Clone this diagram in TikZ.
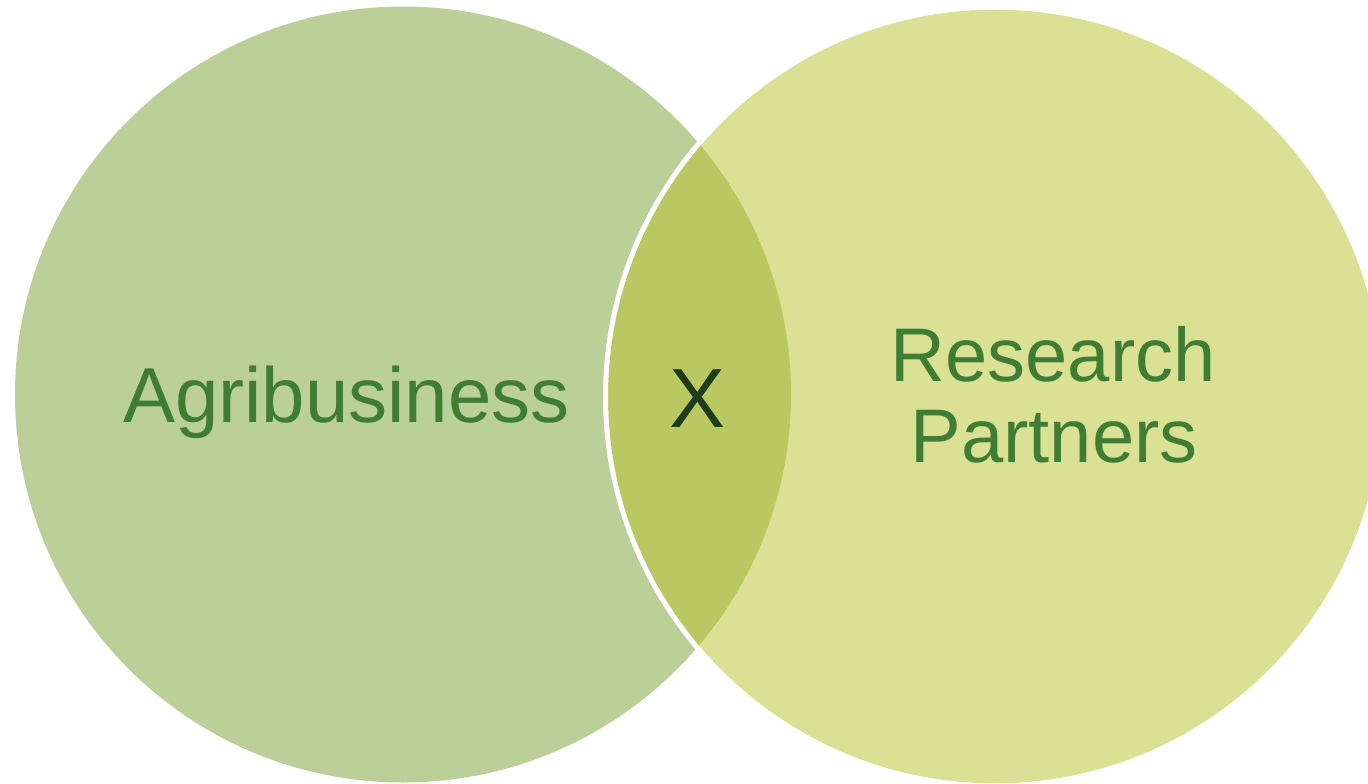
\documentclass[tikz,border=0pt]{standalone}
\usepackage{fontspec}
\setmainfont{Liberation Sans}
\definecolor{leftc}{RGB}{187,207,153}
\definecolor{rightc}{RGB}{219,225,148}
\definecolor{midc}{RGB}{186,200,98}
\definecolor{txtc}{RGB}{63,125,53}
\definecolor{xc}{RGB}{31,61,26}
\tikzset{
  lbl/.style={anchor=base, inner sep=0pt, text=txtc, font=\fontsize{78}{80}\selectfont},
  rlbl/.style={anchor=base, inner sep=0pt, text=txtc, font=\fontsize{76}{80}\selectfont},
  xlbl/.style={anchor=base, inner sep=0pt, text=xc, font=\fontsize{84}{86}\selectfont}
}
\begin{document}
\begin{tikzpicture}[x=1pt,y=-1pt]
\useasboundingbox (0,0) rectangle (1368,784);
\begin{scope}
\clip (0,0) rectangle (1368,784);
\fill[leftc] (403,394.5) circle[radius=388];
\fill[rightc] (995,396.5) circle[radius=387];
\begin{scope}
\clip (403,394.5) circle[radius=388];
\fill[midc] (995,396.5) circle[radius=387];
\end{scope}
\draw[white, line width=5] (995,396.5) circle[radius=389.5];
\end{scope}
\node[lbl] (agri) at (346.5,422) {Agribusiness};
\node[xlbl] (x) at (697.5,427) {X};
\node[rlbl] (res) at (1053,381) {Research};
\node[rlbl] (par) at (1054,462) {Partners};
\end{tikzpicture}
\end{document}
